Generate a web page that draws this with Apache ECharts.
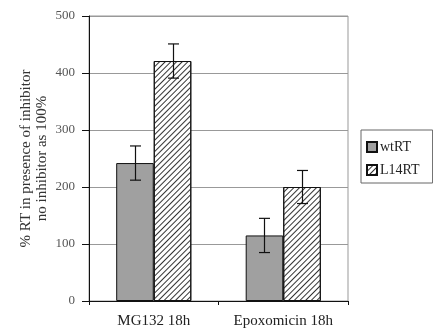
<!DOCTYPE html>
<html>
<head>
<meta charset="utf-8">
<script src="https://cdn.jsdelivr.net/npm/echarts@6/dist/echarts.min.js"></script>
<style>
  html, body { margin: 0; padding: 0; background: #fff; }
  #main { width: 433px; height: 329px; }
</style>
</head>
<body>
<div id="main"></div>
<script>
// data
var categories = ['MG132 18h', 'Epoxomicin 18h'];
var seriesNames = ['wtRT', 'L14RT'];
var wtValues = [242, 115];
var wtErrors = [30, 30];
var l14Values = [421, 200];
var l14Errors = [30, 29];
var yTicks = [0, 100, 200, 300, 400, 500];

var myChart = echarts.init(document.getElementById('main'));

var BAR_W = 0.29; // fraction of category width per bar
var serif = '"Liberation Serif", "DejaVu Serif", serif';

// error bars drawn via custom series, shifted to each bar's centre
function errorSeries(values, errors, shift) {
  var data = values.map(function (v, i) { return [i, v - errors[i], v + errors[i]]; });
  return {
    type: 'custom',
    z: 10,
    data: data,
    renderItem: function (params, api) {
      var band = api.size([1, 0])[0];
      var lo = api.coord([api.value(0), api.value(1)]);
      var hi = api.coord([api.value(0), api.value(2)]);
      var x = Math.round(lo[0] + shift * band * BAR_W) + 0.5;
      var cap = 5.5;
      var st = { stroke: '#111', lineWidth: 1.2 };
      return {
        type: 'group',
        children: [
          { type: 'line', shape: { x1: x, y1: lo[1], x2: x, y2: hi[1] }, style: st },
          { type: 'line', shape: { x1: x - cap, y1: hi[1], x2: x + cap, y2: hi[1] }, style: st },
          { type: 'line', shape: { x1: x - cap, y1: lo[1], x2: x + cap, y2: lo[1] }, style: st }
        ]
      };
    }
  };
}

var option = {
  backgroundColor: '#fff',
  animation: false,
  grid: {
    left: 89, top: 16, right: 85, bottom: 28,
    show: true, borderColor: '#999', borderWidth: 1, backgroundColor: '#fff'
  },
  legend: {
    data: seriesNames,
    orient: 'vertical',
    left: 361, top: 130,
    icon: 'rect',
    itemWidth: 10, itemHeight: 10, itemGap: 9,
    padding: [10, 13, 6, 5],
    borderColor: '#666', borderWidth: 1, backgroundColor: '#fff',
    textStyle: { fontFamily: serif, fontSize: 14, color: '#222', padding: [0, 0, 0, -2] }
  },
  xAxis: {
    type: 'category',
    data: categories,
    axisLine: { lineStyle: { color: '#111', width: 1 } },
    axisTick: { show: true, length: 4, lineStyle: { color: '#111' } },
    axisLabel: { fontFamily: serif, fontSize: 15, color: '#222', margin: 13 }
  },
  yAxis: {
    type: 'value',
    min: yTicks[0], max: yTicks[yTicks.length - 1], interval: 100,
    name: '% RT in presence of inhibitor\nno inhibitor as 100%',
    nameLocation: 'middle',
    nameGap: 39,
    nameMoveOverlap: false,
    nameTextStyle: { fontFamily: serif, fontSize: 15, color: '#333', lineHeight: 16 },
    axisLine: { show: true, lineStyle: { color: '#111', width: 1 } },
    axisTick: { show: true, length: 7, lineStyle: { color: '#111' } },
    axisLabel: { fontFamily: serif, fontSize: 13, color: '#555', margin: 14 },
    splitLine: { lineStyle: { color: '#999', width: 1 } }
  },
  series: [
    {
      name: seriesNames[0],
      type: 'bar',
      data: wtValues,
      barWidth: (BAR_W * 100) + '%',
      barGap: '0%',
      itemStyle: { color: '#a0a0a0', borderColor: '#111', borderWidth: 1 }
    },
    {
      name: seriesNames[1],
      type: 'bar',
      data: l14Values,
      barWidth: (BAR_W * 100) + '%',
      barGap: '0%',
      itemStyle: {
        color: '#fff', borderColor: '#111', borderWidth: 1,
        decal: {
          symbol: 'rect', symbolSize: 1,
          dashArrayX: [1, 0], dashArrayY: [1, 2.2],
          rotation: -Math.PI / 4,
          color: '#333'
        }
      }
    },
    errorSeries(wtValues, wtErrors, -0.5),
    errorSeries(l14Values, l14Errors, 0.5)
  ]
};

myChart.setOption(option);
</script>
</body>
</html>
